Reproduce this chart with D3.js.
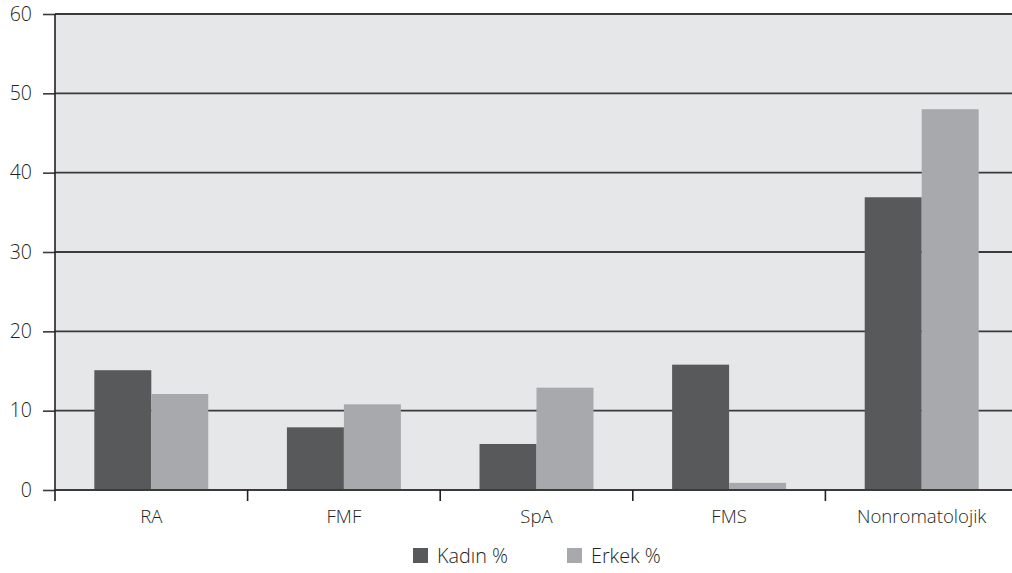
<!DOCTYPE html>
<html>
<head>
<meta charset="utf-8">
<script src="https://cdn.jsdelivr.net/npm/d3@7"></script>
<style>
  html, body { margin: 0; padding: 0; background: #fff; }
  svg { display: block; font-family: "Open Sans", "Noto Sans", sans-serif; font-weight: 300; }
</style>
</head>
<body>
<svg id="chart" width="1012" height="573"></svg>
<script>
// Diagnosis categories and percentage by sex
const categories = ["RA", "FMF", "SpA", "FMS", "Nonromatolojik"];
const kadin = [15.1, 7.9, 5.8, 15.8, 36.9];
const erkek = [12.1, 10.8, 12.9, 0.9, 48.0];
const seriesNames = ["Kadın %", "Erkek %"];
const yTicks = [0, 10, 20, 30, 40, 50, 60];

(function () {
  const colors = ["#58595b", "#a7a9ac"];
  const textColor = "#231f20";
  const svg = d3.select("#chart");

  const mLeft = 55, mRight = 1018, mTop = 14, mBottom = 490;

  const x = d3.scaleBand().domain(categories).range([mLeft, mRight]);
  const x1 = d3.scaleBand().domain(seriesNames).range([0, x.bandwidth()]).paddingOuter(0.69);
  const y = d3.scaleLinear().domain([0, 60]).range([mBottom, mTop]);

  // plot background
  svg.append("rect")
    .attr("x", mLeft).attr("y", mTop)
    .attr("width", mRight - mLeft).attr("height", mBottom - mTop)
    .attr("fill", "#e6e7e8");

  // y axis ticks and labels
  const yAxis = svg.append("g")
    .attr("transform", `translate(${mLeft},0)`)
    .call(d3.axisLeft(y).tickValues(yTicks).tickSize(12).tickPadding(11).tickFormat(d3.format("d")));
  yAxis.select(".domain").remove();
  yAxis.selectAll(".tick line").attr("stroke", "#3a3a3c").attr("stroke-width", 1.6);
  yAxis.selectAll(".tick text")
    .attr("fill", textColor)
    .style("font-size", "19.5px")
    .style("font-family", "'Open Sans', sans-serif")
    .style("font-weight", 300);

  // horizontal gridlines
  svg.append("g").selectAll("line")
    .data(yTicks.filter(d => d > 0))
    .join("line")
    .attr("x1", mLeft).attr("x2", mRight)
    .attr("y1", d => y(d)).attr("y2", d => y(d))
    .attr("stroke", "#3a3a3c").attr("stroke-width", 1.8);

  // bars
  const rows = categories.map((c, i) => ({ cat: c, vals: [kadin[i], erkek[i]] }));
  const groups = svg.append("g").selectAll("g")
    .data(rows).join("g")
    .attr("transform", d => `translate(${x(d.cat)},0)`);
  groups.selectAll("rect")
    .data(d => d.vals.map((v, j) => ({ name: seriesNames[j], v, j })))
    .join("rect")
    .attr("x", d => x1(d.name))
    .attr("width", x1.bandwidth())
    .attr("y", d => y(d.v))
    .attr("height", d => mBottom - y(d.v))
    .attr("fill", d => colors[d.j]);

  // x axis line, band boundary ticks and category labels
  const boundaries = categories.map(c => x(c)).concat([mRight]);
  svg.append("line")
    .attr("x1", mLeft).attr("x2", mRight)
    .attr("y1", mBottom).attr("y2", mBottom)
    .attr("stroke", "#3a3a3c").attr("stroke-width", 1.8);
  svg.append("line")
    .attr("x1", mLeft).attr("x2", mLeft)
    .attr("y1", mTop).attr("y2", mBottom + 11)
    .attr("stroke", "#231f20").attr("stroke-width", 1.6);
  svg.append("g").selectAll("line")
    .data(boundaries.slice(1))
    .join("line")
    .attr("x1", d => d).attr("x2", d => d)
    .attr("y1", mBottom).attr("y2", mBottom + 11)
    .attr("stroke", "#231f20").attr("stroke-width", 1.6);
  svg.append("g").selectAll("text")
    .data(categories)
    .join("text")
    .attr("x", d => x(d) + x.bandwidth() / 2)
    .attr("y", 523)
    .attr("text-anchor", "middle")
    .attr("fill", textColor)
    .style("font-size", "18.6px")
    .text(d => d);

  // legend
  const legendX = [413, 567];
  const legend = svg.append("g").selectAll("g")
    .data(seriesNames).join("g")
    .attr("transform", (d, i) => `translate(${legendX[i]},548)`);
  legend.append("rect").attr("width", 15).attr("height", 15).attr("fill", (d, i) => colors[i]);
  legend.append("text")
    .attr("x", 24).attr("y", 15)
    .attr("fill", textColor)
    .style("font-size", "19.8px")
    .text(d => d);
})();
</script>
</body>
</html>
